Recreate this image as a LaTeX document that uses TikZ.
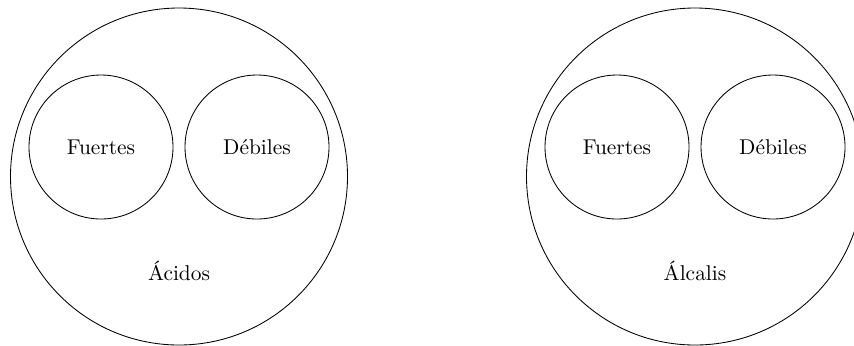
\documentclass[tikz,border=0pt]{standalone}
\begin{document}
\begin{tikzpicture}[x=0.4673pt,y=-0.4673pt,
  big/.style={draw,circle,minimum size=338\pgflinewidth,inner sep=0pt},
  bigc/.style={draw,line width=0.4pt},
  lbl/.style={inner sep=0pt}]
\useasboundingbox (0,0) rectangle (854,345);
\clip (0,0) rectangle (854,345);
% left group
\draw[bigc] (179,176.5) circle[radius=168.5];
\node[lbl] (fa) at (101,147) {Fuertes};
\node[lbl] (da) at (257,147) {Débiles};
\draw[bigc] (fa.center) circle[radius=72];
\draw[bigc] (da.center) circle[radius=72];
\node[lbl] (ac) at (179,271) {Ácidos};
% right group
\draw[bigc] (695,176.5) circle[radius=168.5];
\node[lbl] (fb) at (617,147) {Fuertes};
\node[lbl] (db) at (773,147) {Débiles};
\draw[bigc] (fb.center) circle[radius=72];
\draw[bigc] (db.center) circle[radius=72];
\node[lbl] (al) at (695,271) {Álcalis};
\end{tikzpicture}
\end{document}
